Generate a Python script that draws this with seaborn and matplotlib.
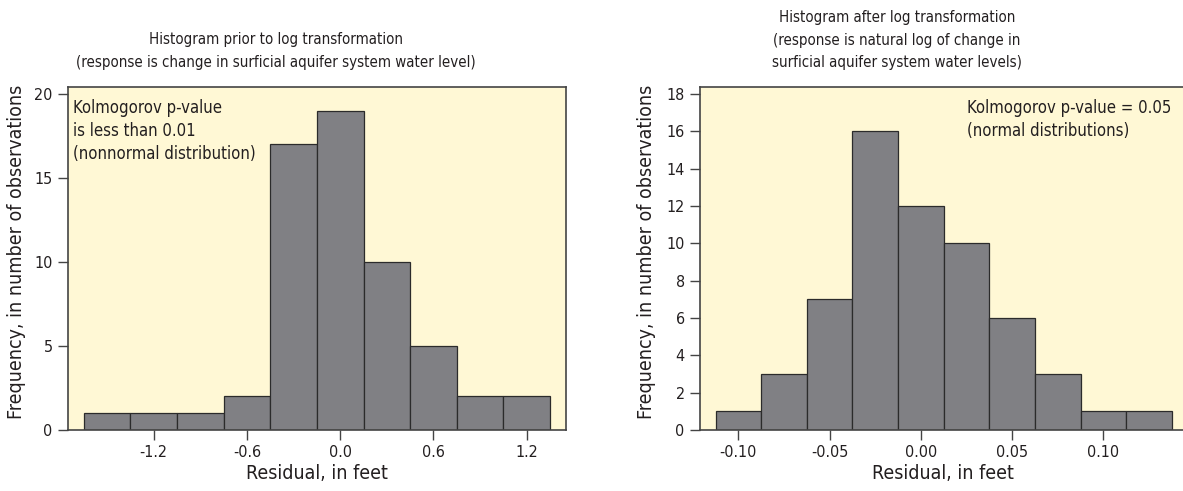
import matplotlib
matplotlib.use("Agg")
import matplotlib.pyplot as plt
from matplotlib import font_manager
import seaborn as sns
import numpy as np

# ---- data ----
left_centers = [-1.5, -1.2, -0.9, -0.6, -0.3, 0.0, 0.3, 0.6, 0.9, 1.2]
left_counts = [1, 1, 1, 2, 17, 19, 10, 5, 2, 2]
left_ticks = [-1.2, -0.6, 0.0, 0.6, 1.2]
left_ticklabels = ["-1.2", "-0.6", "0.0", "0.6", "1.2"]
left_yticks = [0, 5, 10, 15, 20]

right_centers = [-0.100, -0.075, -0.050, -0.025, 0.000, 0.025, 0.050, 0.075, 0.100, 0.125]
right_counts = [1, 3, 7, 16, 12, 10, 6, 3, 1, 1]
right_ticks = [-0.10, -0.05, 0.00, 0.05, 0.10]
right_ticklabels = ["-0.10", "-0.05", "0.00", "0.05", "0.10"]
right_yticks = [0, 2, 4, 6, 8, 10, 12, 14, 16, 18]

left_title = "Histogram prior to log transformation\n(response is change in surficial aquifer system water level)"
right_title = ("Histogram after log transformation\n(response is natural log of change in\n"
               "surficial aquifer system water levels)")
left_note = "Kolmogorov p-value\nis less than 0.01\n(nonnormal distribution)"
right_note = "Kolmogorov p-value = 0.05\n(normal distributions)"
xlabel = "Residual, in feet"
ylabel = "Frequency, in number of observations"

# ---- style ----
sns.set_theme(style="ticks")
names = {f.name for f in font_manager.fontManager.ttflist}
fam = ["Liberation Sans Narrow", "DejaVu Sans"] if "Liberation Sans Narrow" in names else ["DejaVu Sans"]
plt.rcParams["font.family"] = fam
if fam[0] == "DejaVu Sans":
    plt.rcParams["font.stretch"] = "condensed"

BG = "#FFF8D5"
BAR = "#808084"
EDGE = "#2b2b2b"
TXT = "#231f20"

fig = plt.figure(figsize=(11.83, 4.91), dpi=100)
axL = fig.add_axes([68 / 1183, 1 - 430 / 491, (566 - 68) / 1183, (430 - 87) / 491])
axR = fig.add_axes([700 / 1183, 1 - 430 / 491, (1186 - 700) / 1183, (430 - 87) / 491])


def draw(ax, centers, counts, width, xlim, ylim, xt, xtl, yt):
    sns.histplot(x=centers, weights=counts, binwidth=width,
                 binrange=(centers[0] - width / 2, centers[-1] + width / 2),
                 color=BAR, alpha=1, edgecolor=EDGE, linewidth=0.9, ax=ax)
    ax.set_facecolor(BG)
    ax.set_xlim(*xlim)
    ax.set_ylim(*ylim)
    ax.set_xticks(xt)
    ax.set_xticklabels(xtl)
    ax.set_yticks(yt)
    ax.tick_params(axis="both", direction="out", length=7, width=1, color="#444444",
                   labelsize=11.5, labelcolor=TXT, pad=4)
    for s in ax.spines.values():
        s.set_color("#444444")
        s.set_linewidth(1.2)
    ax.set_xlabel(xlabel, fontsize=14, color=TXT, labelpad=3)
    ax.set_ylabel("", fontsize=14)


draw(axL, left_centers, left_counts, 0.3, (-1.75, 1.452), (0, 20.42),
     left_ticks, left_ticklabels, left_yticks)
draw(axR, right_centers, right_counts, 0.025, (-0.121, 0.1453), (0, 18.375),
     right_ticks, right_ticklabels, right_yticks)

fig.text(17 / 1183, 1 - 252 / 491, ylabel, rotation=90, ha="center", va="center",
         fontsize=14, color=TXT)
fig.text(646 / 1183, 1 - 252 / 491, ylabel, rotation=90, ha="center", va="center",
         fontsize=14, color=TXT)

fig.text(276 / 1183, 1 - 51 / 491, left_title, ha="center", va="center",
         fontsize=10.8, color=TXT, linespacing=1.6)
fig.text(897 / 1183, 1 - 40 / 491, right_title, ha="center", va="center",
         fontsize=10.8, color=TXT, linespacing=1.6)

fig.text(73 / 1183, 1 - 131 / 491, left_note, ha="left", va="center",
         fontsize=12, color=TXT, linespacing=1.35)
fig.text(967 / 1183, 1 - 119.5 / 491, right_note, ha="left", va="center",
         fontsize=12, color=TXT, linespacing=1.35)

fig.savefig("out.png", dpi=100)
